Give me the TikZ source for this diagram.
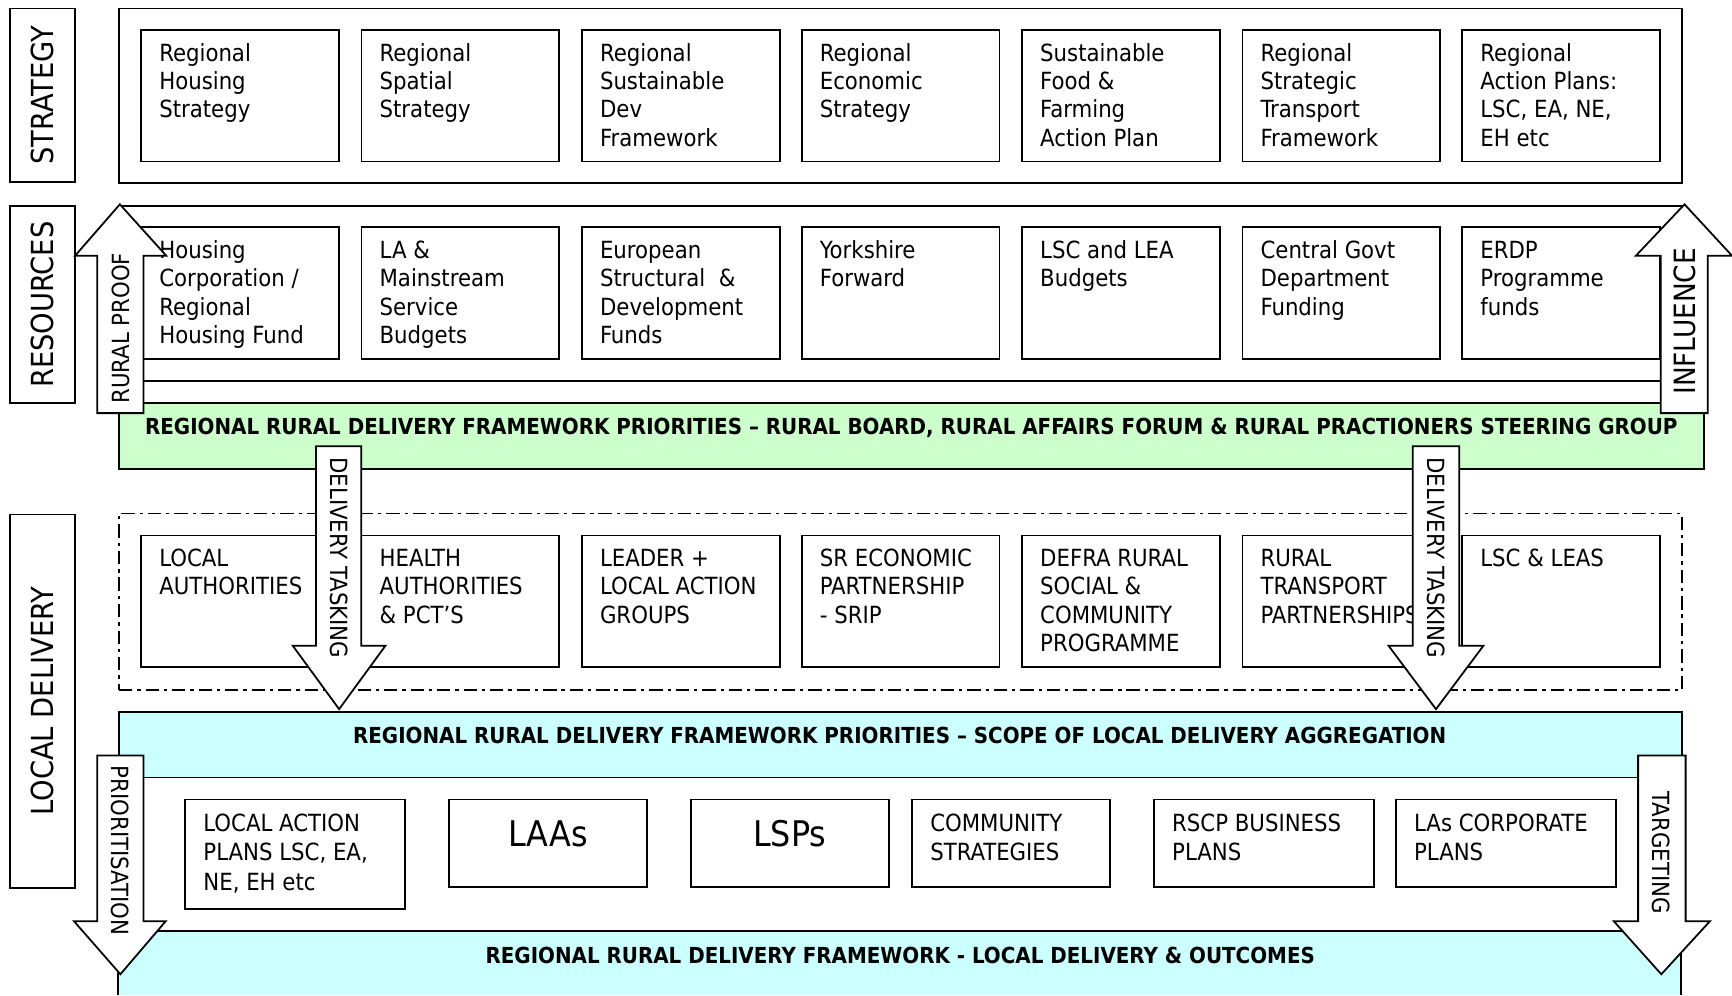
\documentclass[tikz,border=0pt]{standalone}
\usepackage{fontspec}
\setmainfont{DejaVu Sans Condensed}
\definecolor{lgreen}{HTML}{CCFFCC}
\definecolor{lcyan}{HTML}{CCFFFF}
\newcommand\boxfont{\fontsize{21.4}{25.7}\selectfont}
\newcommand\lowfont{\fontsize{21.4}{26.8}\selectfont}
\tikzset{
  frame/.style={draw, line width=1.6pt, inner sep=0, anchor=north west},
  ibox/.style={draw, line width=1.6pt, fill=white, inner sep=0, anchor=north west, minimum width=179pt},
  itext/.style={anchor=north west, inner sep=0, align=left, font=\boxfont},
  ltext/.style={anchor=north west, inner sep=0, align=left, font=\lowfont},
  sidetext/.style={rotate=90, inner sep=0, font=\fontsize{27.5}{31}\selectfont},
  infltext/.style={rotate=90, inner sep=0, font=\fontsize{26.5}{30}\selectfont},
  arrtext/.style={inner sep=0, font=\fontsize{21.4}{25}\selectfont},
  bandtext/.style={anchor=base, inner sep=0, font=\fontsize{20}{24}\selectfont\bfseries},
  barrow/.style={draw, line width=1.6pt, fill=white, line join=miter},
  bigtext/.style={inner sep=0, font=\fontsize{32}{36}\selectfont}
}
% box: name, x, y, height, text
\newcommand\ibx[5]{%
  \node[ibox, minimum height=#4pt] (#1) at (#2,#3) {};
  \node[itext] (#1t) at ([xshift=17pt,yshift=-10.7pt]#1.north west) {\strut #5};}
\newcommand\ibxl[6]{%
  \node[ibox, minimum height=#4pt, minimum width=#6pt] (#1) at (#2,#3) {};
  \node[ltext] (#1t) at ([xshift=17pt,yshift=-10.7pt]#1.north west) {\strut #5};}
% block arrow: shaftL, shaftR, headL, headR, tipx, tipy, basey, endy
\newcommand\barr[8]{%
  \draw[barrow] (#1,#8) -- (#1,#7) -- (#3,#7) -- (#5,#6) -- (#4,#7) -- (#2,#7) -- (#2,#8) -- cycle;}
\begin{document}
\begin{tikzpicture}[x=1pt,y=-1pt]
\useasboundingbox (0,0) rectangle (1568,901);
% side labels
\node[frame, minimum width=59pt, minimum height=157pt] (lstrat) at (8,7) {};
\node[sidetext] (lstratt) at (lstrat.center) {STRATEGY};
\node[frame, minimum width=59pt, minimum height=178pt] (lres) at (8,186) {};
\node[sidetext] (lrest) at (lres.center) {RESOURCES};
\node[frame, minimum width=59pt, minimum height=338pt] (lloc) at (8,465) {};
\node[sidetext] (lloct) at (lloc.center) {LOCAL DELIVERY};
% strategy
\node[frame, minimum width=1415pt, minimum height=158pt] (strat) at (107,7) {};
\ibx{s1}{127}{26.5}{119}{Regional\\Housing\\Strategy}
\ibx{s2}{326.5}{26.5}{119}{Regional\\Spatial\\Strategy}
\ibx{s3}{526}{26.5}{119}{Regional\\Sustainable\\Dev\\Framework}
\ibx{s4}{725}{26.5}{119}{Regional\\Economic\\Strategy}
\ibx{s5}{924.5}{26.5}{119}{Sustainable\\Food \&\\Farming\\Action Plan}
\ibx{s6}{1124}{26.5}{119}{Regional\\Strategic\\Transport\\Framework}
\ibx{s7}{1323}{26.5}{119}{Regional\\Action Plans:\\LSC, EA, NE,\\EH etc}
% resources
\node[frame, minimum width=1415pt, minimum height=158pt] (res) at (107,186) {};
\ibx{r1}{127}{205}{119}{Housing\\Corporation /\\Regional\\Housing Fund}
\ibx{r2}{326.5}{205}{119}{LA \&\\Mainstream\\Service\\Budgets}
\ibx{r3}{526}{205}{119}{European\\Structural~~\&\\Development\\Funds}
\ibx{r4}{725}{205}{119}{Yorkshire\\Forward}
\ibx{r5}{924.5}{205}{119}{LSC and LEA\\Budgets}
\ibx{r6}{1124}{205}{119}{Central Govt\\Department\\Funding}
\ibx{r7}{1323}{205}{119}{ERDP\\Programme\\funds}
% green band
\node[frame, fill=lgreen, minimum width=1435pt, minimum height=60pt] (green) at (107,364) {};
\node[bandtext] (greent) at (825,393.5) {REGIONAL RURAL DELIVERY FRAMEWORK PRIORITIES – RURAL BOARD, RURAL AFFAIRS FORUM \& RURAL PRACTIONERS STEERING GROUP};
% local delivery dash box
\node[frame, dash pattern=on 12pt off 4.5pt on 3pt off 4.5pt, minimum width=1415pt, minimum height=160pt] (locbox) at (107,464) {};
\ibx{l1}{127}{484}{119}{LOCAL\\AUTHORITIES}
\ibx{l2}{326.5}{484}{119}{HEALTH\\AUTHORITIES\\\& PCT’S}
\ibx{l3}{526}{484}{119}{LEADER +\\LOCAL ACTION\\GROUPS}
\ibx{l4}{725}{484}{119}{SR ECONOMIC\\PARTNERSHIP\\- SRIP}
\ibx{l5}{924.5}{484}{119}{DEFRA RURAL\\SOCIAL \&\\COMMUNITY\\PROGRAMME}
\ibx{l6}{1124}{484}{119}{RURAL\\TRANSPORT\\PARTNERSHIPS}
\ibx{l7}{1323}{484}{119}{LSC \& LEAS}
% cyan bands
\fill[lcyan] (107,703) rectangle (1522,901);
\draw[line width=1.6pt] (107,901) -- (107,703) (1522,703) -- (1522,901);
\node[frame, fill=lcyan, minimum width=1415pt, minimum height=59pt] (cyan1) at (107,644) {};
\node[bandtext] (cyan1t) at (814.5,673.5) {REGIONAL RURAL DELIVERY FRAMEWORK PRIORITIES – SCOPE OF LOCAL DELIVERY AGGREGATION};
\fill[white] (108,704) rectangle (1521,843);
\draw[line width=1.6pt] (107,843) -- (1522,843);
\node[bandtext] (cyan2t) at (815,872.5) {REGIONAL RURAL DELIVERY FRAMEWORK - LOCAL DELIVERY \& OUTCOMES};
% bottom boxes
\ibxl{b1}{167}{723}{99}{LOCAL ACTION\\PLANS LSC, EA,\\NE, EH etc}{199}
\node[ibox, minimum height=79pt] (b2) at (406,723) {};
\node[bigtext] (b2t) at (496,755) {LAAs};
\node[ibox, minimum height=79pt] (b3) at (625,723) {};
\node[bigtext] (b3t) at (715,755) {LSPs};
\ibxl{b4}{825}{723}{79}{COMMUNITY\\STRATEGIES}{179}
\ibxl{b5}{1044}{723}{79}{RSCP BUSINESS\\PLANS}{199}
\ibxl{b6}{1263}{723}{79}{LAs CORPORATE\\PLANS}{199}
% block arrows
\barr{88}{130}{68}{150.5}{108.5}{185}{231.5}{374}
\node[arrtext, rotate=90] (rproof) at (109,297) {RURAL PROOF};
\barr{1503.5}{1546}{1481}{1568}{1525}{185}{231.5}{374}
\node[infltext] (infl) at (1525,291) {INFLUENCE};
\barr{286}{327}{265}{349}{307}{642}{584.5}{404}
\node[arrtext, rotate=-90] (dt1) at (307,505) {DELIVERY TASKING};
\barr{1279}{1321}{1257}{1343}{1300}{642}{584.5}{404}
\node[arrtext, rotate=-90] (dt2) at (1300,505) {DELIVERY TASKING};
\barr{88}{130}{67}{150}{109}{882}{834}{684}
\node[arrtext, rotate=-90] (prio) at (109,770) {PRIORITISATION};
\barr{1483}{1526}{1461}{1548}{1504}{882}{834}{684}
\node[arrtext, rotate=-90] (targ) at (1504,772) {TARGETING};
\end{tikzpicture}
\end{document}
